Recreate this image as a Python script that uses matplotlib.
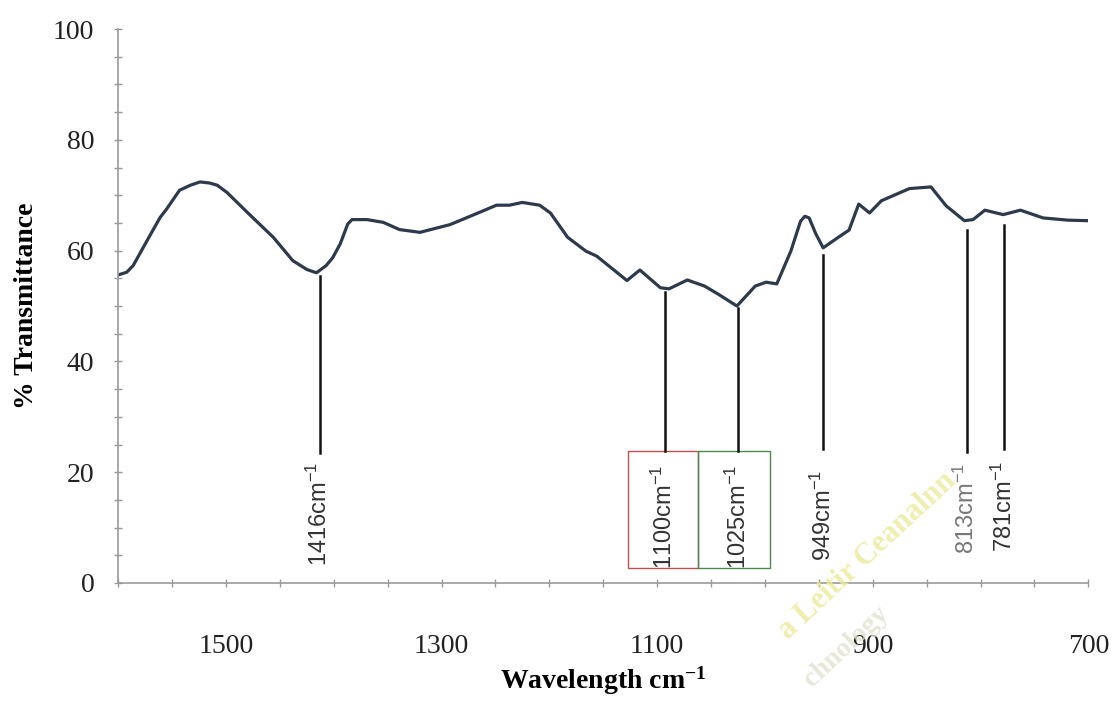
import matplotlib
matplotlib.use("Agg")
import matplotlib.pyplot as plt
from matplotlib.patches import Rectangle
from matplotlib.ticker import MultipleLocator, FixedLocator

# IR spectrum
wavenumber = [1600, 1592, 1586, 1574, 1561, 1555, 1543, 1533, 1524, 1515, 1508, 1499,
              1478, 1456, 1438, 1425, 1416, 1407, 1401, 1394, 1387, 1383, 1369, 1354,
              1339, 1320, 1292, 1271, 1249, 1237, 1225, 1209, 1199, 1183, 1166, 1156,
              1128, 1116, 1097, 1089, 1072, 1056, 1043, 1026, 1009, 999, 989, 976,
              967, 963, 959, 953, 946, 932, 922, 913, 903, 892, 866, 846, 832, 815,
              807, 796, 779, 763, 742, 719, 700]
transmittance = [55.6, 56.1, 57.3, 61.5, 66.0, 67.5, 70.9, 71.8, 72.4, 72.2, 71.8, 70.5,
                 66.5, 62.4, 58.2, 56.6, 56.0, 57.3, 58.7, 61.2, 64.8, 65.6, 65.6, 65.1,
                 63.8, 63.3, 64.7, 66.4, 68.2, 68.2, 68.7, 68.2, 66.8, 62.4, 59.9, 59.0,
                 54.6, 56.5, 53.3, 53.1, 54.7, 53.6, 52.1, 50.0, 53.6, 54.3, 54.0, 59.9,
                 65.3, 66.2, 65.9, 63.1, 60.5, 62.4, 63.7, 68.4, 66.8, 69.0, 71.2, 71.5,
                 68.1, 65.4, 65.6, 67.3, 66.5, 67.3, 65.9, 65.5, 65.4]

# marked peaks
peak_labels = ["1416", "1100", "1025", "949", "813", "781"]
peak_pos = [1413, 1093, 1025, 946, 813, 778]
peak_top = [55.4, 52.6, 49.6, 59.2, 63.8, 64.6]
peak_bottom = [23.5, 23.8, 23.8, 24.2, 23.6, 24.2]
label_y = [3.0, 2.6, 2.6, 4.0, 5.2, 5.6]
label_colors = ["#333333", "#333333", "#333333", "#333333", "#777777", "#333333"]

plt.rcParams["mathtext.default"] = "regular"

fig = plt.figure(figsize=(11.14, 7.03), dpi=100)
ax = fig.add_axes([0.106, 0.1707, 0.871, 0.788])

ax.plot(wavenumber, transmittance, color="#2c3a4c", lw=2.3, solid_joinstyle="round")

for lab, x, top, bot, ly, c in zip(peak_labels, peak_pos, peak_top, peak_bottom,
                                   label_y, label_colors):
    ax.plot([x, x], [bot, top], color="#111111", lw=1.8)
    ax.text(x, ly, lab + "cm$^{-1}$", rotation=90, ha="center", va="bottom",
            fontsize=17, color=c, family="Liberation Sans")

# boxes around the two Si-O bands
ax.add_patch(Rectangle((1062, 2.7), 65, 21.1, fill=False, ec="#c0504d", lw=1.0))
ax.add_patch(Rectangle((995, 2.7), 67, 21.1, fill=False, ec="#4a8a50", lw=1.0))

ax.set_xlim(1600, 700)
ax.set_ylim(0, 100)
ax.xaxis.set_major_locator(FixedLocator([1500, 1300, 1100, 900, 700]))
ax.xaxis.set_minor_locator(MultipleLocator(50))
ax.yaxis.set_major_locator(MultipleLocator(20))
ax.yaxis.set_minor_locator(MultipleLocator(5))

for s in ["top", "right"]:
    ax.spines[s].set_visible(False)
for s in ["left", "bottom"]:
    ax.spines[s].set_color("#999999")
    ax.spines[s].set_linewidth(1.2)

ax.tick_params(which="both", direction="inout", length=6, color="#999999", width=1)
ax.tick_params(axis="x", which="major", pad=34, labelsize=20)
ax.tick_params(axis="y", which="major", pad=14, labelsize=20)
for t in ax.get_xticklabels() + ax.get_yticklabels():
    t.set_family("Liberation Serif")
    t.set_color("#222222")

ax.set_xlabel("Wavelength cm$^{-1}$", fontsize=20, fontweight="bold",
              family="Liberation Serif", labelpad=4)
ax.set_ylabel("% Transmittance", fontsize=20, fontweight="bold",
              family="Liberation Serif", labelpad=10)

# faint library watermark from the scan
fig.text(0.779, 0.21, "a Leitir Ceanalnn", rotation=43, ha="center", va="center",
         fontsize=22, fontweight="bold", family="Liberation Serif", color="#ecea9a",
         alpha=0.8)
fig.text(0.76, 0.08, "chnology", rotation=43, ha="center", va="center",
         fontsize=20, fontweight="bold", family="Liberation Serif", color="#e2e2d0",
         alpha=0.8)

fig.savefig("out.png", dpi=100)
